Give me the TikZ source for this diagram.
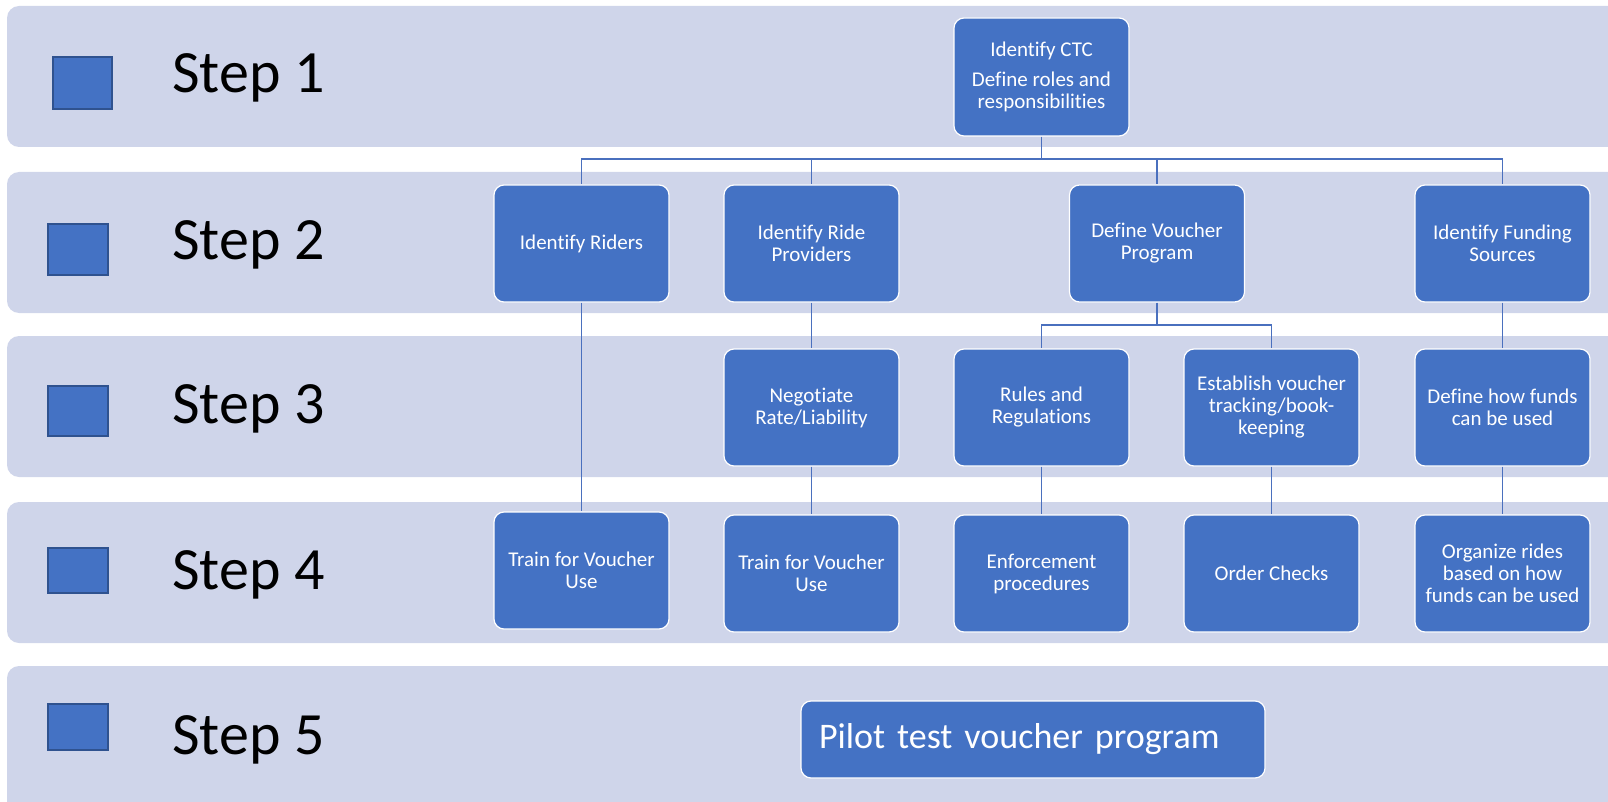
\documentclass[tikz,border=0pt]{standalone}
\usepackage{fontspec}
\setmainfont{Carlito}[Ligatures=NoCommon]
\definecolor{bandcol}{HTML}{CFD5EA}
\definecolor{boxcol}{HTML}{4472C4}
\definecolor{sqedge}{HTML}{2F528F}
\definecolor{linecol}{HTML}{4A70BE}
\tikzset{
  band/.style={fill=bandcol, rounded corners=12pt},
  marker/.style={fill=boxcol, draw=sqedge, line width=1.2pt},
  steplabel/.style={anchor=base west, inner sep=0pt, font=\fontsize{60}{62}\selectfont, text=black},
  stepbox/.style={rectangle, rounded corners=10pt, fill=boxcol, draw=white, line width=1.2pt,
    minimum width=175pt, minimum height=117pt, text=white, align=center, inner sep=2pt,
    font=\fontsize{21}{22}\selectfont},
  pilotbox/.style={rectangle, rounded corners=10pt, fill=boxcol, draw=white, line width=1.2pt,
    minimum width=464pt, minimum height=77pt, text=white, inner xsep=18pt, text width=428pt, align=left,
    font=\fontsize{36}{40}\selectfont},
  conn/.style={draw=linecol, line width=1.4pt}
}
\begin{document}
\begin{tikzpicture}[x=1pt,y=-1pt]
\useasboundingbox (0,0) rectangle (1608,802);
\clip (0,0) rectangle (1608,802);
% bands
\fill[band] (7,6) rectangle (1640,147);
\fill[band] (7,172) rectangle (1640,313);
\fill[band] (7,336) rectangle (1640,477);
\fill[band] (7,502) rectangle (1640,643);
\fill[band] (7,666) rectangle (1640,820);
% markers
\draw[marker] (53,57) rectangle (112,109);
\draw[marker] (48,224) rectangle (108,275);
\draw[marker] (48,386) rectangle (108,436);
\draw[marker] (48,548) rectangle (108,593);
\draw[marker] (48,704) rectangle (108,750);
% step labels
\node[steplabel] (s1) at (172,93) {Step 1};
\node[steplabel] (s2) at (172,259) {Step 2};
\node[steplabel] (s3) at (172,423.5) {Step 3};
\node[steplabel] (s4) at (172,589) {Step 4};
\node[steplabel] (s5) at (172,754.5) {Step 5};
% boxes
\node[stepbox, minimum height=118pt] (ctc) at (1041.5,77) {Identify CTC\\[8pt]Define roles and\\responsibilities};
\node[stepbox] (riders) at (581.5,243.5) {Identify Riders};
\node[stepbox] (prov) at (811.5,243.5) {Identify Ride\\Providers};
\node[stepbox] (vouch) at (1157,243.5) {Define Voucher\\Program};
\node[stepbox] (fund) at (1502.5,243.5) {Identify Funding\\Sources};
\node[stepbox] (nego) at (811.5,407.5) {Negotiate\\Rate/Liability};
\node[stepbox] (rules) at (1041.5,407.5) {Rules and\\Regulations};
\node[stepbox] (estab) at (1271.5,407.5) {Establish voucher\\tracking/book-\\keeping};
\node[stepbox] (howf) at (1502.5,407.5) {Define how funds\\can be used};
\node[stepbox] (train1) at (581.5,570.5) {Train for Voucher\\Use};
\node[stepbox] (train2) at (811.5,573.5) {Train for Voucher\\Use};
\node[stepbox] (enf) at (1041.5,573.5) {Enforcement\\procedures};
\node[stepbox] (order) at (1271.5,573.5) {Order Checks};
\node[stepbox] (org) at (1502.5,573.5) {Organize rides\\based on how\\funds can be used};
\node[pilotbox] (pilot) at (1033,739.5) {Pilot test voucher program};
% connectors
\coordinate (busA) at (0,159);
\coordinate (busB) at (0,325);
\draw[conn] (ctc.south) -- (ctc.south |- busA) -| (riders.north);
\draw[conn] (ctc.south |- busA) -| (prov.north);
\draw[conn] (ctc.south |- busA) -| (vouch.north);
\draw[conn] (ctc.south |- busA) -| (fund.north);
\draw[conn] (riders.south) -- (train1.north);
\draw[conn] (prov.south) -- (nego.north);
\draw[conn] (nego.south) -- (train2.north);
\draw[conn] (vouch.south) -- (vouch.south |- busB) -| (rules.north);
\draw[conn] (vouch.south |- busB) -| (estab.north);
\draw[conn] (rules.south) -- (enf.north);
\draw[conn] (estab.south) -- (order.north);
\draw[conn] (fund.south) -- (howf.north);
\draw[conn] (howf.south) -- (org.north);
\end{tikzpicture}
\end{document}
